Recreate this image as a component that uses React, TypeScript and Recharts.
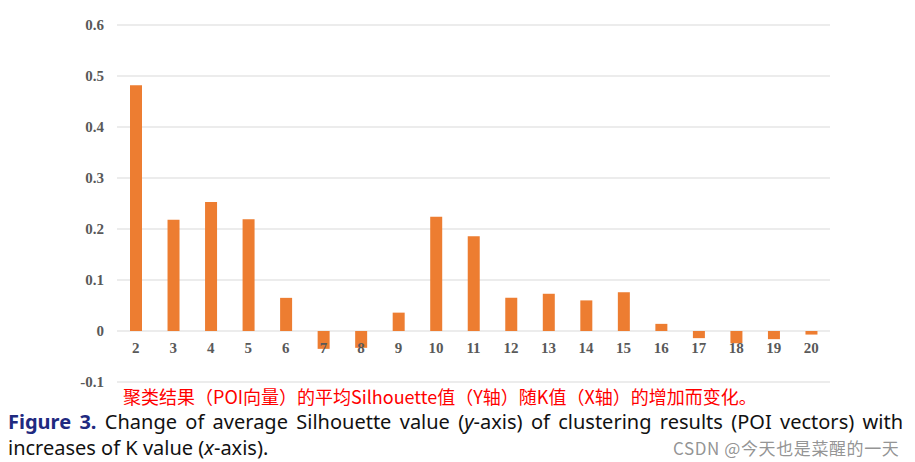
import { Bar, BarChart, CartesianGrid, XAxis, YAxis } from "recharts";

const kValues = ["2", "3", "4", "5", "6", "7", "8", "9", "10", "11", "12", "13", "14", "15", "16", "17", "18", "19", "20"];
const silhouette = [0.482, 0.218, 0.253, 0.219, 0.065, -0.035, -0.033, 0.036, 0.224, 0.186, 0.065, 0.073, 0.06, 0.076, 0.014, -0.014, -0.024, -0.016, -0.007];
const yTicks = [-0.1, 0, 0.1, 0.2, 0.3, 0.4, 0.5, 0.6];

const chartData = kValues.map((k, i) => ({ k, value: silhouette[i] }));

const serif = "'Times New Roman', 'Liberation Serif', serif";

// excel puts the category labels right under the zero line, not at the bottom
function KTick({ x, y, payload }: any) {
  return (
    <text x={x} y={y - 34} textAnchor="middle" dominantBaseline="central" fill="#595959" fontFamily={serif} fontWeight="bold" fontSize={15}>
      {payload.value}
    </text>
  );
}

export default function App() {
  return (
    <div style={{ position: "absolute", left: 0, top: 0, width: 915, height: 462, background: "#fff", overflow: "hidden" }}>
      <BarChart width={915} height={402} data={chartData} margin={{ top: 25, right: 85, bottom: 0, left: 0 }} barSize={12}>
        <CartesianGrid vertical={false} stroke="#d9d9d9" />
        <XAxis dataKey="k" axisLine={false} tickLine={false} tickSize={0} tickMargin={0} height={20} tick={<KTick />} interval={0} />
        <YAxis
          width={117}
          domain={[-0.1, 0.6]}
          ticks={yTicks}
          axisLine={false}
          tickLine={false}
          tickSize={0}
          tickMargin={13}
          tick={{ fill: "#595959", fontFamily: serif, fontWeight: "bold", fontSize: 15 }}
        />
        <Bar dataKey="value" fill="#ED7D31" isAnimationActive={false} />
      </BarChart>
      <div
        style={{
          position: "absolute",
          left: 123,
          top: 386,
          fontFamily: "'Noto Sans CJK SC', sans-serif",
          fontSize: 18,
          lineHeight: "20px",
          color: "#ff0000",
          whiteSpace: "nowrap",
        }}
      >
        聚类结果（POI向量）的平均Silhouette值（Y轴）随K值（X轴）的增加而变化。
      </div>
      <div
        style={{
          position: "absolute",
          left: 8,
          top: 409,
          width: 895,
          fontFamily: "'Liberation Sans Narrow', 'Noto Sans', sans-serif",
          fontSize: 20,
          lineHeight: "26px",
          color: "#111",
        }}
      >
        <div style={{ textAlign: "justify", textAlignLast: "justify", whiteSpace: "nowrap" }}>
          <span style={{ color: "#1f2a80", fontWeight: "bold" }}>Figure 3.</span> Change of average Silhouette value (<i>y</i>-axis) of clustering results (POI vectors) with
        </div>
        <span>
          increases of K value (<i>x</i>-axis).
        </span>
      </div>
      <div
        style={{
          position: "absolute",
          left: 673,
          top: 439,
          fontFamily: "'Noto Sans CJK SC', sans-serif",
          fontSize: 17,
          letterSpacing: 0.6,
          lineHeight: "17px",
          color: "rgba(120,120,120,0.8)",
          whiteSpace: "nowrap",
        }}
      >
        CSDN @今天也是菜醒的一天
      </div>
    </div>
  );
}
